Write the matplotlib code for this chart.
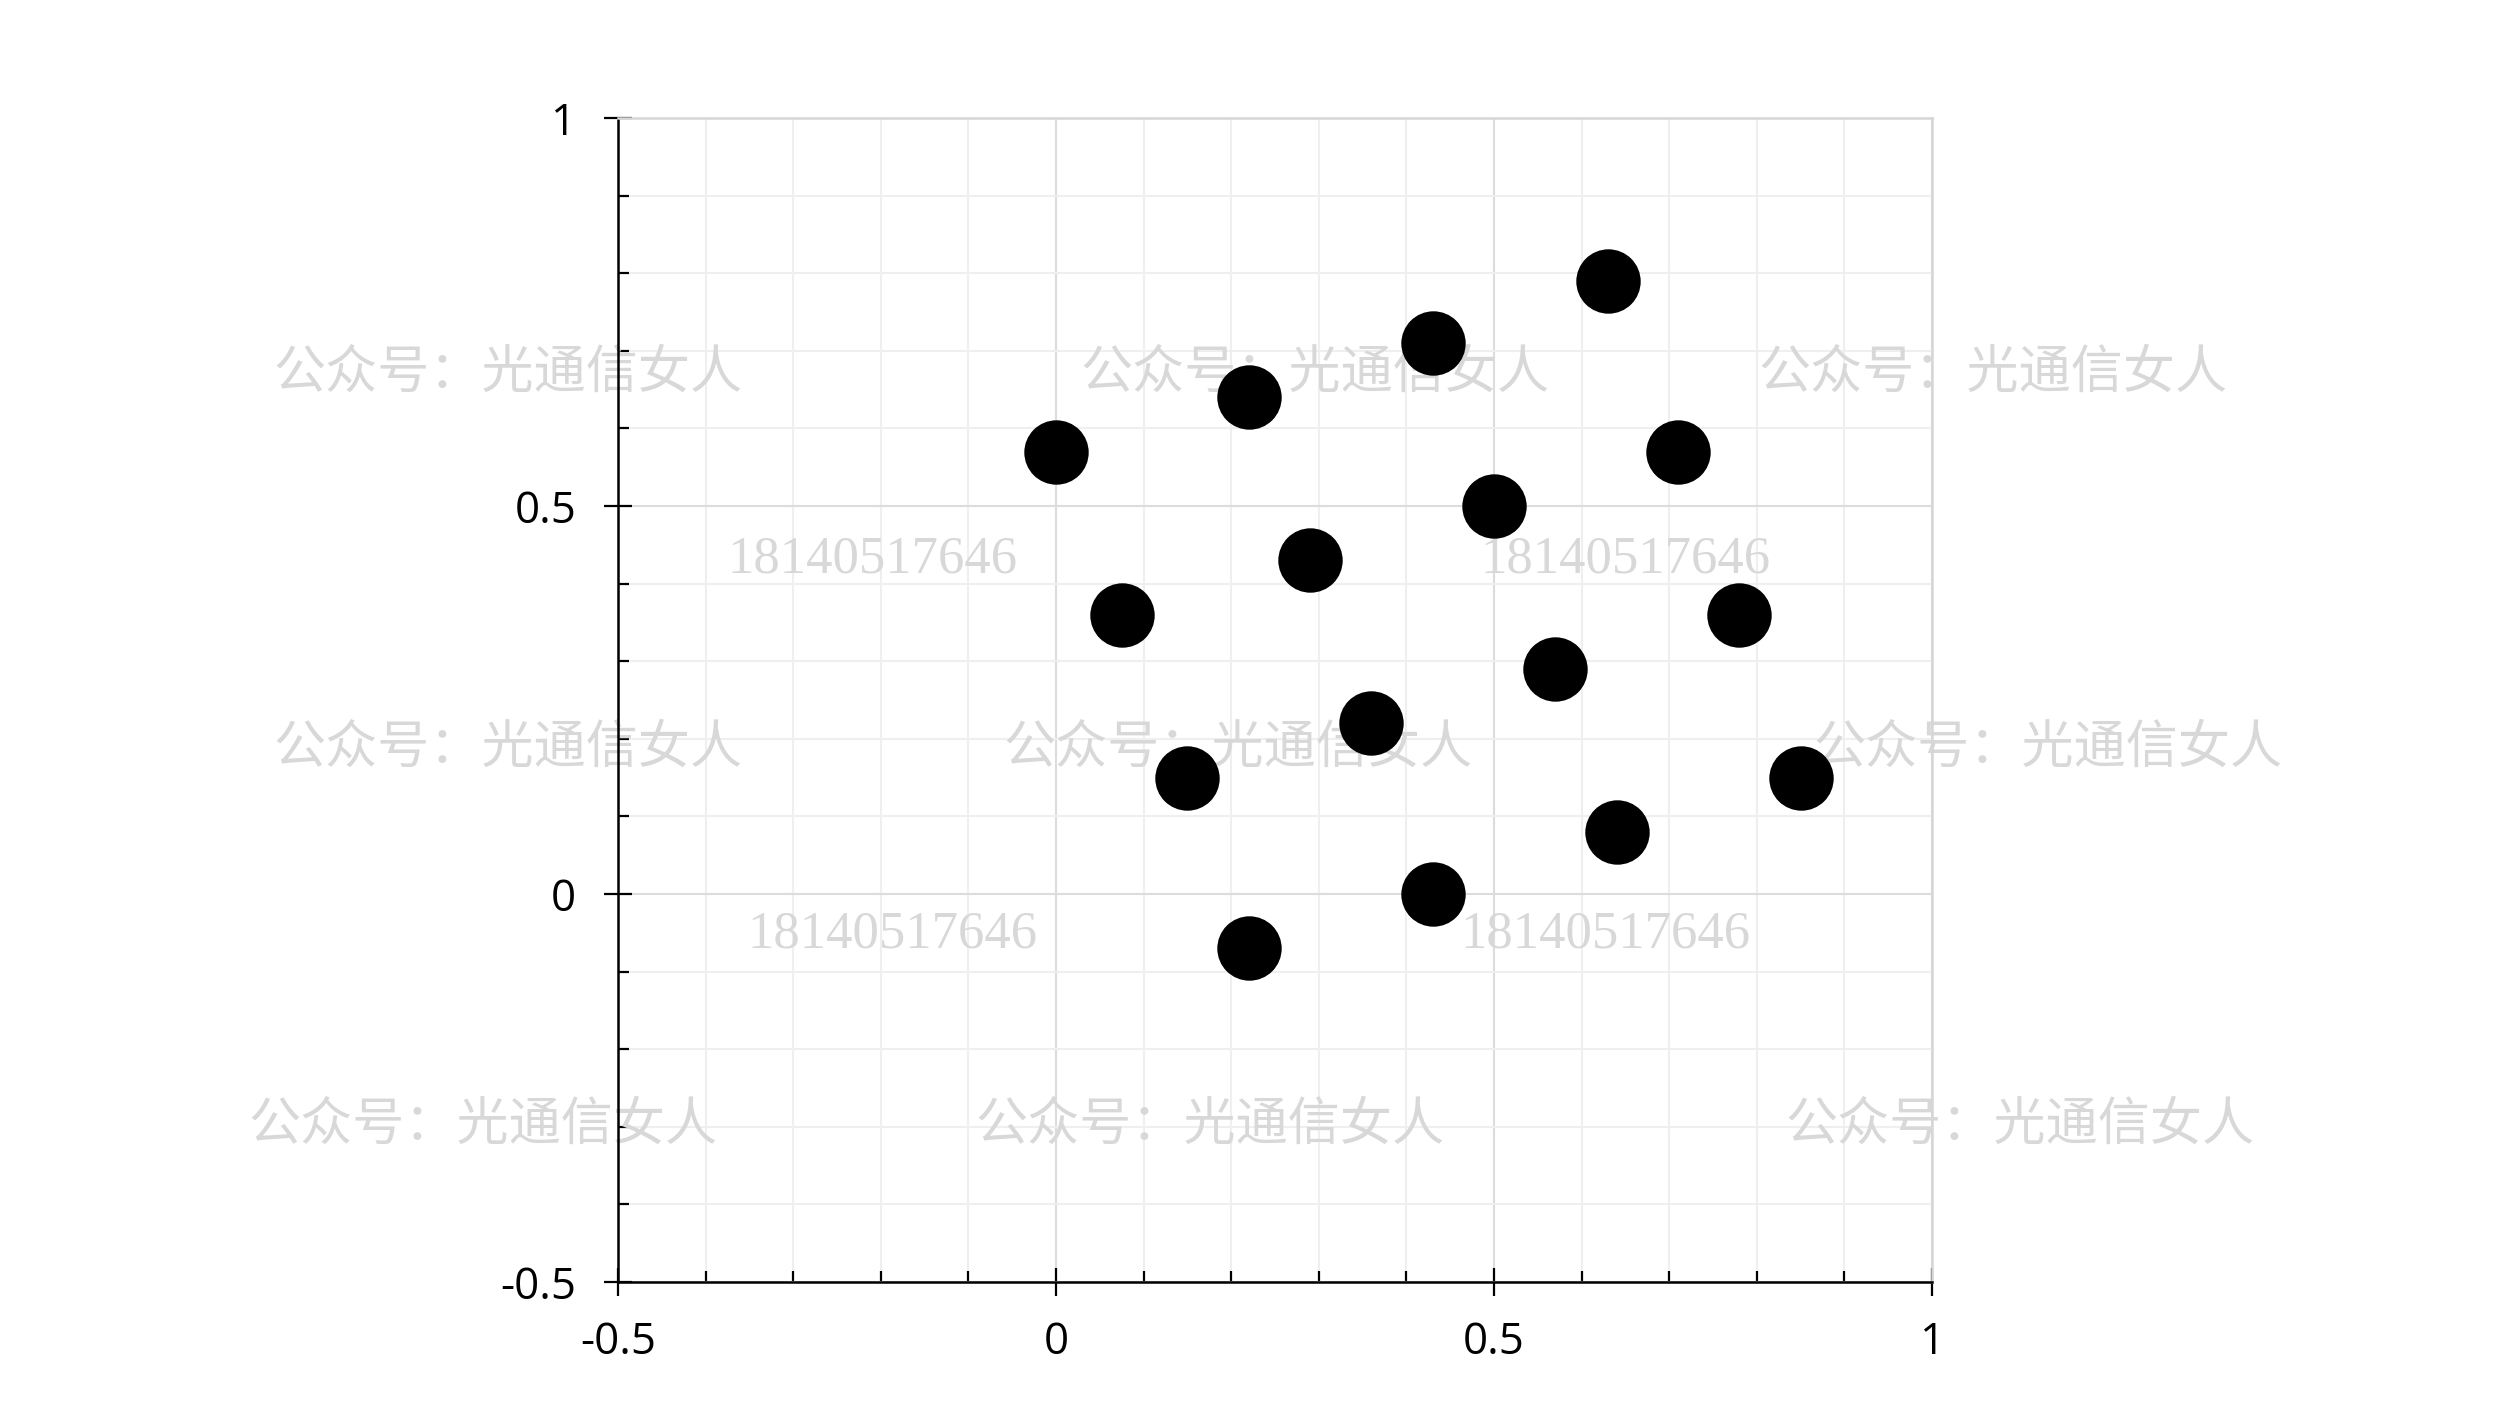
import matplotlib
matplotlib.use("Agg")
import matplotlib.pyplot as plt
from matplotlib.ticker import MultipleLocator, FixedLocator

# Data
x_vals = [0.63, 0.43, 0.22, 0.00, 0.71, 0.50, 0.29, 0.075, 0.78, 0.57,
          0.36, 0.15, 0.85, 0.64, 0.43, 0.22]
y_vals = [0.79, 0.71, 0.64, 0.57, 0.57, 0.50, 0.43, 0.36, 0.36, 0.29,
          0.22, 0.15, 0.15, 0.08, 0.00, -0.07]
x_ticks = [-0.5, 0, 0.5, 1]
y_ticks = [-0.5, 0, 0.5, 1]
tick_labels = ["-0.5", "0", "0.5", "1"]

wm_cn = "公众号：光通信女人"
wm_num = "18140517646"
wm_cn_pos = [(0.203, 0.735), (0.526, 0.735), (0.797, 0.735),
             (0.203, 0.468), (0.495, 0.468), (0.819, 0.468),
             (0.193, 0.200), (0.484, 0.200), (0.808, 0.200)]
wm_num_pos = [(0.349, 0.602), (0.650, 0.602), (0.357, 0.335), (0.642, 0.335)]

fig = plt.figure(figsize=(25, 14.06), dpi=100)
ax = fig.add_axes([0.2472, 0.0882, 0.5256, 0.8278])

ax.set_xlim(-0.5, 1)
ax.set_ylim(-0.5, 1)

ax.scatter(x_vals, y_vals, s=2150, color="black", zorder=4, linewidths=0)

# grid
ax.xaxis.set_major_locator(FixedLocator(x_ticks))
ax.yaxis.set_major_locator(FixedLocator(y_ticks))
ax.xaxis.set_minor_locator(MultipleLocator(0.1))
ax.yaxis.set_minor_locator(MultipleLocator(0.1))
ax.set_xticklabels(tick_labels)
ax.set_yticklabels(tick_labels)
ax.grid(which="minor", color="#efefef", linewidth=1.5, zorder=0)
ax.grid(which="major", color="#dcdcdc", linewidth=1.5, zorder=0)
ax.set_axisbelow(True)

for side in ["top", "right"]:
    ax.spines[side].set_color("#d6d6d6")
    ax.spines[side].set_linewidth(1.8)
for side in ["left", "bottom"]:
    ax.spines[side].set_color("black")
    ax.spines[side].set_linewidth(1.8)

ax.tick_params(which="major", direction="inout", length=20, width=1.6,
               labelsize=31.5, color="black")
ax.tick_params(axis="x", which="major", pad=18)
ax.tick_params(axis="y", which="major", pad=20)
ax.tick_params(which="minor", direction="in", length=8, width=1.6, color="black")
for lab in ax.get_xticklabels() + ax.get_yticklabels():
    lab.set_fontfamily(["Open Sans", "DejaVu Sans"])

# watermarks
for (wx, wy) in wm_cn_pos:
    ax.text(wx, wy, wm_cn, transform=fig.transFigure, ha="center", va="center",
            fontsize=37.5, color="#d8d8d8", family=["Noto Sans CJK SC", "DejaVu Sans"],
            fontweight="light", zorder=1, clip_on=False)
for (wx, wy) in wm_num_pos:
    ax.text(wx, wy, wm_num, transform=fig.transFigure, ha="center", va="center",
            fontsize=38, color="#d8d8d8", family=["Liberation Serif", "DejaVu Serif"],
            zorder=1, clip_on=False)

fig.savefig("out.png", dpi=100, facecolor="white")
